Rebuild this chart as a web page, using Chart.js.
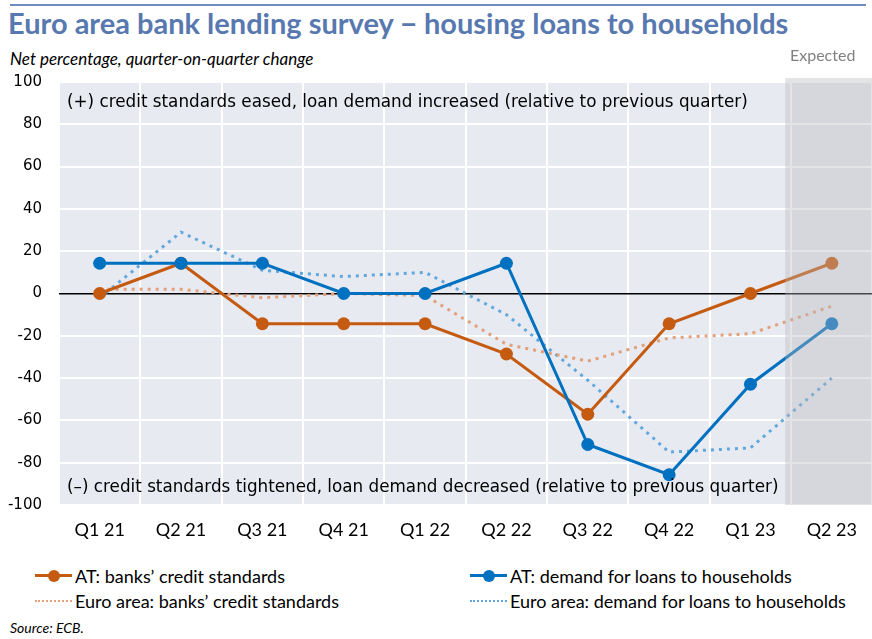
<!DOCTYPE html>
<html>
<head>
<meta charset="utf-8">
<script src="https://cdn.jsdelivr.net/npm/chart.js@4.4.0/dist/chart.umd.min.js"></script>
<style>
  html, body { margin: 0; padding: 0; overflow: hidden; }
  body { width: 872px; height: 639px; background: #fff; position: relative; font-family: Lato, sans-serif; }
  .rule { position: absolute; left: 10px; top: 4px; width: 856px; height: 2px; background: #6f8cc0; }
  .title { position: absolute; left: 8px; top: 5px; font: bold 29px Lato, sans-serif; color: #5878b0; white-space: nowrap; }
  .subtitle { position: absolute; left: 10px; top: 48px; font: italic 17px Lato, sans-serif; color: #000; }
  .expected { position: absolute; left: 790px; top: 45px; font: 16px Lato, sans-serif; color: #808080; }
  #chart { position: absolute; left: 0; top: 0; }
  .note { position: absolute; left: 67px; font: 16.8px "DejaVu Sans", sans-serif; color: #000; white-space: nowrap; }
  .legend { position: absolute; top: 565px; left: 0; width: 872px; font: 18px Lato, sans-serif; }
  .item { position: absolute; display: flex; align-items: center; white-space: nowrap; }
  .mark { position: relative; width: 37px; height: 12px; margin-right: 3px; }
  .mark .ln { position: absolute; left: 0; right: 0; top: 5px; }
  .mark .dot { position: absolute; left: 13px; top: 0; width: 12px; height: 12px; border-radius: 50%; }
  .source { position: absolute; left: 10px; top: 619px; font: italic 14px Lato, sans-serif; }
</style>
</head>
<body>
<div class="rule"></div>
<div class="title">Euro area bank lending survey − housing loans to households</div>
<div class="subtitle">Net percentage, quarter-on-quarter change</div>
<canvas id="chart" width="879" height="546"></canvas>
<div class="expected">Expected</div>
<div class="note" style="top:91px">(+) credit standards eased, loan demand increased (relative to previous quarter)</div>
<div class="note" style="top:476px">(–) credit standards tightened, loan demand decreased (relative to previous quarter)</div>
<div class="legend" id="legend"></div>
<div class="source">Source: ECB.</div>

<script>
const quarters = ['Q1 21', 'Q2 21', 'Q3 21', 'Q4 21', 'Q1 22', 'Q2 22', 'Q3 22', 'Q4 22', 'Q1 23', 'Q2 23'];
const atCredit = [0, 14.3, -14.3, -14.3, -14.3, -28.6, -57.1, -14.3, 0, 14.3];
const atDemand = [14.3, 14.3, 14.3, 0, 0, 14.3, -71.4, -85.7, -42.9, -14.3];
const euroCredit = [2, 2, -2, 0, -1, -24, -32, -21, -19, -6];
const euroDemand = [-2, 29, 11, 8, 10, -10, -41, -75, -73, -40];
const yTicks = [100, 80, 60, 40, 20, 0, -20, -40, -60, -80, -100];
const expectedFrom = 9;

const orange = '#c55a11';
const blue = '#0070c0';
const orangeDot = '#e3a07a';
const blueDot = '#62a8de';

const plotBg = {
    id: 'plotBg',
    beforeDraw(chart) {
        const { ctx, chartArea: a } = chart;
        ctx.save();
        ctx.fillStyle = '#e7eaf1';
        ctx.fillRect(a.left, a.top, a.right - a.left, a.bottom - a.top);
        ctx.restore();
    }
};

// grey band over the forecast quarter, drawn on top of the lines
const expectedBand = {
    id: 'expectedBand',
    afterDatasetsDraw(chart) {
        const { ctx, chartArea: a, scales: { x } } = chart;
        const left = (x.getPixelForValue(expectedFrom - 1) + x.getPixelForValue(expectedFrom)) / 2 - 6;
        ctx.save();
        ctx.fillStyle = 'rgba(185,185,188,0.38)';
        ctx.fillRect(left, a.top - 4, chart.width - left, a.bottom - a.top + 4);
        ctx.restore();
    }
};

new Chart(document.getElementById('chart'), {
    type: 'line',
    data: {
        labels: quarters,
        datasets: [
            {
                label: 'AT: demand for loans to households',
                data: atDemand,
                borderColor: blue,
                backgroundColor: blue,
                borderWidth: 3,
                pointRadius: 6.5,
                pointBorderWidth: 0,
                tension: 0
            },
            {
                label: 'AT: banks’ credit standards',
                data: atCredit,
                borderColor: orange,
                backgroundColor: orange,
                borderWidth: 3,
                pointRadius: 6.5,
                pointBorderWidth: 0,
                tension: 0
            },
            {
                label: 'Euro area: banks’ credit standards',
                data: euroCredit,
                borderColor: orangeDot,
                borderWidth: 3,
                borderDash: [3, 5],
                pointRadius: 0,
                tension: 0
            },
            {
                label: 'Euro area: demand for loans to households',
                data: euroDemand,
                borderColor: blueDot,
                borderWidth: 3,
                borderDash: [3, 5],
                pointRadius: 0,
                tension: 0
            }
        ]
    },
    options: {
        responsive: false,
        animation: false,
        layout: { padding: { top: 82, left: 0, right: 0, bottom: 0 } },
        plugins: {
            legend: { display: false },
            tooltip: { enabled: false }
        },
        scales: {
            x: {
                offset: true,
                grid: { offset: true, color: '#ffffff', lineWidth: 2, drawTicks: false },
                border: { display: false },
                ticks: { color: '#000', font: { family: 'Lato', size: 18 }, padding: 14, maxRotation: 0 },
                afterFit(s) { s.height = 41; }
            },
            y: {
                min: -100,
                max: 100,
                afterBuildTicks(s) { s.ticks = yTicks.map(v => ({ value: v })); },
                grid: {
                    color: c => c.tick && c.tick.value === 0 ? '#000000' : '#ffffff',
                    lineWidth: c => c.tick && c.tick.value === 0 ? 1.5 : 2,
                    drawTicks: false
                },
                border: { display: false },
                ticks: { color: '#000', font: { family: 'DejaVu Sans', size: 15 }, padding: 17 },
                afterFit(s) { s.width = 59; }
            }
        }
    },
    plugins: [plotBg, expectedBand]
});

// legend in two columns, same order as the reference
const legendItems = [
    { label: 'AT: banks’ credit standards', color: orange, dotted: false, left: 35, top: 0 },
    { label: 'AT: demand for loans to households', color: blue, dotted: false, left: 470, top: 0 },
    { label: 'Euro area: banks’ credit standards', color: orangeDot, dotted: true, left: 35, top: 25 },
    { label: 'Euro area: demand for loans to households', color: blueDot, dotted: true, left: 470, top: 25 }
];
const legend = document.getElementById('legend');
legendItems.forEach(it => {
    const el = document.createElement('div');
    el.className = 'item';
    el.style.left = it.left + 'px';
    el.style.top = it.top + 'px';
    const line = it.dotted
        ? `<div class="ln" style="border-top:2px dotted ${it.color}"></div>`
        : `<div class="ln" style="border-top:3px solid ${it.color};top:4px"></div><div class="dot" style="background:${it.color}"></div>`;
    el.innerHTML = `<div class="mark">${line}</div><span>${it.label}</span>`;
    legend.appendChild(el);
});
</script>
</body>
</html>
